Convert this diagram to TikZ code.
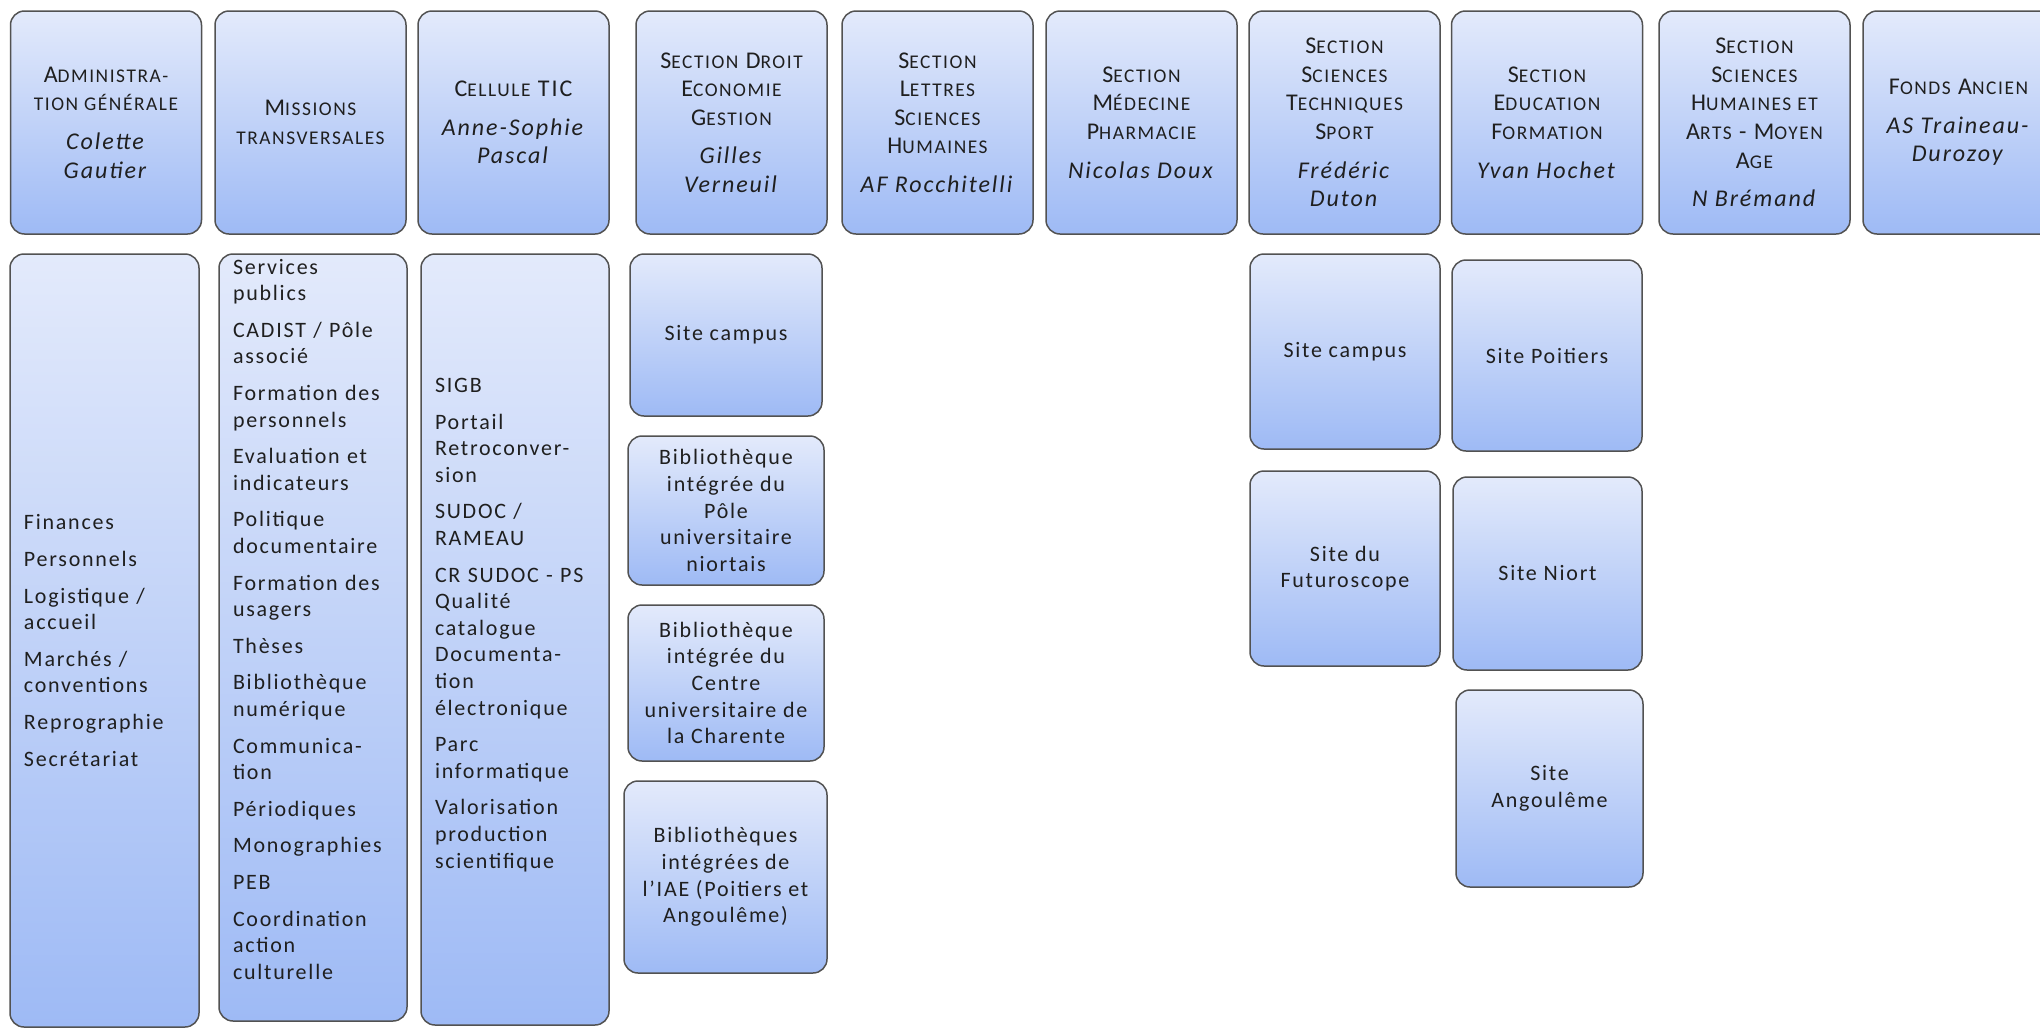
\documentclass[tikz,border=0pt]{standalone}
\usepackage{fontspec}
\setmainfont{Carlito}[LetterSpace=8]
\usepackage{tikz}
\definecolor{paneltop}{RGB}{227,234,251}
\definecolor{panelbot}{RGB}{158,186,245}
\newcommand\Sm[1]{{\fontsize{9.7pt}{14.3pt}\selectfont #1}}
\hyphenpenalty=10000

\begin{document}
\begin{tikzpicture}[x=0.5pt, y=-0.5pt,
    panel/.style={draw=black!68, line width=0.75pt, rounded corners=7pt,
      top color=paneltop, bottom color=panelbot, text=black!88,
      inner xsep=7pt, inner ysep=0pt},
    head/.style={panel, minimum width=95.5pt, minimum height=111.5pt, align=center,
      font=\fontsize{12pt}{14.3pt}\selectfont},
    list/.style={panel, align=left, font=\fontsize{11pt}{13.3pt}\selectfont},
    site/.style={panel, align=center, font=\fontsize{11pt}{13.3pt}\selectfont}]
    \useasboundingbox (0,0) rectangle (2040,1029);

    % top row: services and sections
    \foreach \Name/\X/\Text in {
      admin/106/{A\Sm{DMINISTRA-}\\\Sm{TION GÉNÉRALE}\\[5pt]\textit{Colette}\\\textit{Gautier}},
      missions/310.5/{M\Sm{ISSIONS}\\\Sm{TRANSVERSALES}},
      tic/513.5/{C\Sm{ELLULE} TIC\\[5pt]\textit{Anne-Sophie}\\\textit{Pascal}},
      droit/731.5/{S\Sm{ECTION} D\Sm{ROIT}\\E\Sm{CONOMIE}\\G\Sm{ESTION}\\[5pt]\textit{Gilles}\\\textit{Verneuil}},
      lettres/937.5/{S\Sm{ECTION}\\L\Sm{ETTRES}\\S\Sm{CIENCES}\\H\Sm{UMAINES}\\[5pt]\textit{AF Rocchitelli}},
      medecine/1141.5/{S\Sm{ECTION}\\M\Sm{ÉDECINE}\\P\Sm{HARMACIE}\\[5pt]\textit{Nicolas Doux}},
      sciences/1344.5/{S\Sm{ECTION}\\S\Sm{CIENCES}\\T\Sm{ECHNIQUES}\\S\Sm{PORT}\\[5pt]\textit{Frédéric}\\\textit{Duton}},
      education/1547/{S\Sm{ECTION}\\E\Sm{DUCATION}\\F\Sm{ORMATION}\\[5pt]\textit{Yvan Hochet}},
      humaines/1754.5/{S\Sm{ECTION}\\S\Sm{CIENCES}\\H\Sm{UMAINES ET}\\A\Sm{RTS} - M\Sm{OYEN}\\A\Sm{GE}\\[5pt]\textit{N Brémand}},
      fonds/1958.5/{F\Sm{ONDS} A\Sm{NCIEN}\\[5pt]\textit{AS Traineau-}\\\textit{Durozoy}}%
    }
    \node[head] (\Name) at (\X,122.5) {\Text};

    % long lists
    \node[list, text width=80.5pt, minimum height=386.5pt] (admintasks) at (104.5,640.5)
      {Finances\\[5pt]Personnels\\[5pt]Logistique~/\\accueil\\[5pt]Marchés~/\\conventions\\[5pt]%
       Reprographie\\[5pt]Secrétariat};
    \node[list, text width=80pt, minimum height=383.5pt] (missiontasks) at (313,637.5)
      {Services\\publics\\[5pt]CADIST~/~Pôle\\associé\\[5pt]Formation~des\\personnels\\[5pt]%
       Evaluation~et\\indicateurs\\[5pt]Politique\\documentaire\\[5pt]Formation~des\\usagers\\[5pt]%
       Thèses\\[5pt]Bibliothèque\\numérique\\[5pt]Communica-\\tion\\[5pt]Périodiques\\[5pt]%
       Monographies\\[5pt]PEB\\[5pt]Coordination\\action\\culturelle\\[5pt]\mbox{}};
    \node[list, text width=80pt, minimum height=385.5pt] (tictasks) at (515,639.5)
      {SIGB\\[5pt]Portail\\Retroconver-\\sion\\[5pt]SUDOC~/\\RAMEAU\\[5pt]CR~SUDOC~-~PS\\Qualité\\%
       catalogue\\Documenta-\\tion\\électronique\\[5pt]Parc\\informatique\\[5pt]Valorisation\\%
       production\\scientifique\\[3pt]\mbox{}};

    % sites
    \foreach \Name/\X/\Y/\W/\H/\Text in {
      droitcampus/726/335/96/81/{Site campus},
      niortais/726/510.5/98/74.5/{Bibliothèque\\intégrée du\\Pôle\\universitaire\\niortais},
      charente/726/683/98/78/{Bibliothèque\\intégrée du\\Centre\\universitaire de\\la Charente},
      iae/725.5/877/101.5/96/{Bibliothèques\\intégrées de\\l'IAE (Poitiers et\\Angoulême)},
      scicampus/1345/351.5/95/97.5/{Site campus},
      futuroscope/1345/568.5/95/97.5/{Site du\\Futuroscope},
      poitiers/1547/355.5/95/95.5/{Site Poitiers},
      niort/1547.5/573.5/94.5/96.5/{Site Niort},
      angouleme/1549.5/788.5/93.5/98.5/{Site\\Angoulême}%
    }
    \node[site, minimum width=\W pt, minimum height=\H pt] (\Name) at (\X,\Y) {\Text};
\end{tikzpicture}
\end{document}
